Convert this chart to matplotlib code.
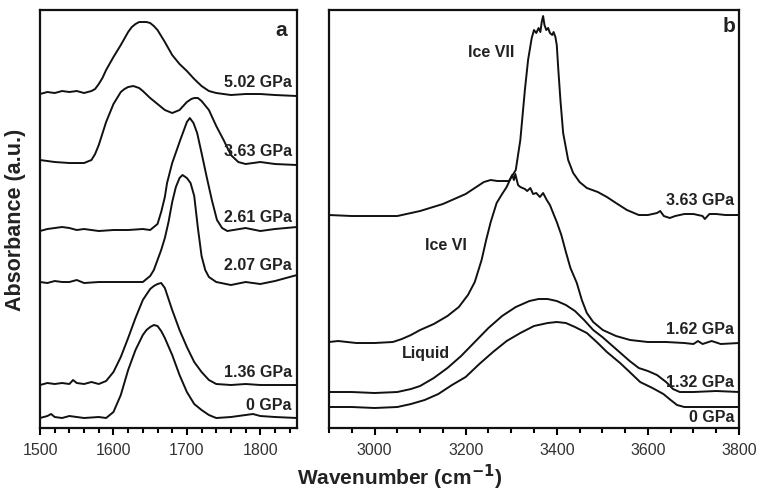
import numpy as np
import matplotlib
matplotlib.use('Agg')
import matplotlib.pyplot as plt

plt.rcParams['font.family'] = ['Liberation Sans', 'DejaVu Sans']

# ---- panel a : bending band (1500-1850 cm-1) ----
wn_502 = [1500, 1510, 1520, 1530, 1540, 1550, 1560, 1570, 1575, 1580, 1585, 1590, 1600, 1610, 1620, 1625,
          1630, 1635, 1640, 1645, 1650, 1655, 1660, 1670, 1680, 1690, 1700, 1710, 1720, 1730, 1740, 1760,
          1780, 1800, 1820, 1850]
ab_502 = [334, 336, 335, 337, 336, 337, 335, 337, 339, 344, 350, 358, 371, 383, 396, 401,
          404, 406, 406, 406, 405, 402, 398, 386, 373, 364, 357, 349, 342, 337, 335, 333,
          334, 334, 333, 332]

wn_363a = [1500, 1520, 1540, 1560, 1570, 1575, 1580, 1590, 1600, 1610, 1615, 1620, 1627, 1635, 1640, 1650,
           1660, 1670, 1680, 1690, 1700, 1706, 1710, 1715, 1720, 1730, 1740, 1750, 1760, 1770, 1780, 1800,
           1820, 1850]
ab_363a = [268, 266, 265, 265, 268, 274, 283, 306, 324, 336, 339, 341, 342, 340, 337, 330,
           324, 318, 315, 318, 326, 329, 330, 330, 327, 318, 302, 288, 273, 266, 264, 266,
           264, 263]

wn_261 = [1500, 1510, 1520, 1530, 1540, 1550, 1560, 1580, 1600, 1620, 1640, 1650, 1660, 1665, 1670, 1673,
          1680, 1691, 1700, 1704, 1709, 1714, 1720, 1727, 1734, 1741, 1748, 1755, 1780, 1800, 1820, 1850]
ab_261 = [197, 199, 200, 201, 200, 198, 199, 197, 198, 198, 199, 198, 204, 216, 231, 245,
          265, 288, 306, 310, 305, 295, 275, 251, 228, 208, 200, 197, 200, 197, 199, 201]

wn_207 = [1500, 1510, 1520, 1530, 1540, 1550, 1560, 1580, 1600, 1620, 1640, 1650, 1655, 1660, 1665, 1670,
          1675, 1680, 1685, 1690, 1694, 1700, 1705, 1710, 1715, 1720, 1725, 1730, 1740, 1760, 1780, 1800,
          1820, 1850]
ab_207 = [146, 145, 147, 146, 146, 148, 145, 146, 146, 146, 146, 152, 158, 168, 178, 190,
          206, 226, 241, 250, 253, 250, 245, 232, 200, 172, 158, 151, 146, 143, 146, 144,
          147, 153]

wn_136 = [1500, 1510, 1520, 1530, 1540, 1545, 1550, 1560, 1570, 1580, 1590, 1600, 1610, 1620, 1630, 1640,
          1650, 1655, 1660, 1665, 1670, 1680, 1690, 1700, 1710, 1720, 1730, 1740, 1760, 1780, 1800, 1820,
          1850]
ab_136 = [43, 45, 44, 45, 44, 48, 45, 44, 46, 44, 47, 56, 71, 90, 110, 128,
          139, 142, 144, 145, 140, 118, 98, 81, 66, 56, 48, 44, 43, 44, 43, 43,
          43]

wn_0a = [1500, 1510, 1515, 1520, 1530, 1540, 1560, 1580, 1590, 1600, 1610, 1620, 1630, 1640, 1645, 1650,
         1655, 1660, 1665, 1670, 1680, 1690, 1700, 1710, 1720, 1730, 1740, 1760, 1790, 1800, 1820, 1850]
ab_0a = [10, 12, 14, 11, 10, 12, 10, 11, 10, 16, 33, 58, 78, 93, 98, 101,
         103, 102, 97, 90, 73, 53, 36, 24, 18, 13, 10, 11, 14, 12, 11, 10]

# ---- panel b : stretching band (2900-3800 cm-1) ----
wn_363b = [2900, 2950, 3000, 3050, 3100, 3150, 3200, 3240, 3255, 3270, 3295, 3310, 3320, 3330, 3337, 3345,
           3350, 3355, 3360, 3364, 3367, 3370, 3373, 3377, 3381, 3385, 3390, 3393, 3397, 3400, 3403, 3408,
           3414, 3425, 3436, 3450, 3466, 3490, 3510, 3530, 3554, 3580, 3600, 3620, 3627, 3635, 3648, 3660,
           3680, 3700, 3720, 3725, 3735, 3750, 3770, 3800]
ab_363b = [213, 212, 212, 212, 217, 224, 234, 246, 248, 247, 247, 258, 288, 338, 368, 390,
           398, 395, 400, 396, 406, 412, 403, 398, 400, 395, 393, 396, 391, 383, 361, 328,
           295, 268, 255, 246, 240, 236, 231, 225, 218, 213, 213, 215, 217, 212, 210, 212,
           214, 214, 212, 209, 214, 214, 213, 213]

wn_162 = [2900, 2920, 2940, 2960, 3000, 3040, 3060, 3080, 3100, 3130, 3160, 3185, 3205, 3220, 3235, 3245,
          3255, 3268, 3280, 3290, 3297, 3302, 3306, 3309, 3315, 3320, 3330, 3335, 3342, 3348, 3355, 3363,
          3370, 3378, 3385, 3392, 3400, 3410, 3420, 3430, 3444, 3455, 3466, 3480, 3501, 3530, 3561, 3600,
          3640, 3680, 3700, 3710, 3720, 3740, 3760, 3800]
ab_162 = [86, 87, 86, 85, 85, 86, 89, 93, 98, 104, 112, 121, 133, 146, 168, 188,
          206, 225, 234, 241, 248, 253, 248, 254, 243, 241, 239, 237, 240, 234, 235, 231,
          235, 228, 223, 215, 206, 193, 176, 160, 145, 128, 115, 106, 98, 92, 88, 86,
          86, 85, 84, 87, 84, 87, 84, 85]

wn_132 = [2900, 2950, 3000, 3050, 3080, 3100, 3130, 3160, 3190, 3220, 3250, 3280, 3310, 3340, 3360, 3380,
          3400, 3420, 3440, 3460, 3480, 3500, 3520, 3540, 3560, 3580, 3600, 3620, 3640, 3655, 3670, 3700,
          3750, 3800]
ab_132 = [36, 36, 35, 36, 39, 42, 50, 60, 72, 86, 100, 112, 121, 127, 129, 129,
          127, 123, 117, 108, 98, 91, 83, 75, 67, 60, 57, 53, 46, 39, 36, 36,
          37, 36]

wn_0b = [2900, 2950, 3000, 3050, 3080, 3110, 3140, 3170, 3200, 3230, 3260, 3290, 3320, 3350, 3380, 3400,
         3420, 3440, 3466, 3490, 3510, 3539, 3560, 3583, 3610, 3634, 3650, 3664, 3680, 3700, 3750, 3800]
ab_0b = [21, 21, 20, 21, 24, 28, 34, 43, 51, 64, 76, 87, 95, 102, 105, 106,
         105, 101, 95, 85, 76, 65, 56, 46, 40, 34, 28, 23, 21, 21, 21, 21]

labels_a = ['5.02 GPa', '3.63 GPa', '2.61 GPa', '2.07 GPa', '1.36 GPa', '0 GPa']
label_y_a = [346, 277, 211, 163, 56, 23]
labels_b = ['3.63 GPa', '1.62 GPa', '1.32 GPa', '0 GPa']
label_y_b = [228, 99, 46, 11]

fig = plt.figure(figsize=(7.61, 4.91), dpi=100)
ax1 = fig.add_axes([0.0526, 0.1283, 0.3377, 0.8513])
ax2 = fig.add_axes([0.4323, 0.1283, 0.5388, 0.8513])

for x, y in [(wn_502, ab_502), (wn_363a, ab_363a), (wn_261, ab_261),
             (wn_207, ab_207), (wn_136, ab_136), (wn_0a, ab_0a)]:
    ax1.plot(x, y, color='#111111', lw=1.4)
for x, y in [(wn_363b, ab_363b), (wn_162, ab_162), (wn_132, ab_132), (wn_0b, ab_0b)]:
    ax2.plot(x, y, color='#111111', lw=1.4)

ax1.set_xlim(1500, 1850)
ax2.set_xlim(2900, 3800)
for ax in (ax1, ax2):
    ax.set_ylim(0, 418)
    ax.set_yticks([])
    for s in ax.spines.values():
        s.set_linewidth(1.6)
        s.set_color('#111111')
    ax.tick_params(axis='x', which='major', direction='out', length=5, width=1.5,
                   labelsize=11.5, labelcolor='#333333', pad=6)
    ax.tick_params(axis='x', which='minor', direction='out', length=3.5, width=1.5)

ax1.set_xticks([1500, 1600, 1700, 1800])
ax1.set_xticks(np.arange(1500, 1851, 20), minor=True)
ax2.set_xticks([3000, 3200, 3400, 3600, 3800])
ax2.set_xticks(np.arange(2900, 3801, 50), minor=True)

for t, y in zip(labels_a, label_y_a):
    ax1.text(1843, y, t, ha='right', va='center', fontsize=11.5, fontweight='bold', color='#222222')
for t, y in zip(labels_b, label_y_b):
    ax2.text(3790, y, t, ha='right', va='center', fontsize=11.5, fontweight='bold', color='#222222')

ax2.text(3257, 376, 'Ice VII', ha='center', va='center', fontsize=11.5, fontweight='bold', color='#222222')
ax2.text(3157, 183, 'Ice VI', ha='center', va='center', fontsize=11.5, fontweight='bold', color='#222222')
ax2.text(3113, 75, 'Liquid', ha='center', va='center', fontsize=11.5, fontweight='bold', color='#222222')

ax1.text(0.94, 0.95, 'a', transform=ax1.transAxes, ha='center', va='center',
         fontsize=15, fontweight='bold', color='#222222')
ax2.text(0.975, 0.96, 'b', transform=ax2.transAxes, ha='center', va='center',
         fontsize=15, fontweight='bold', color='#222222')

fig.text(400 / 761, 1 - 477 / 491, 'Wavenumber (cm$^{\\mathbf{-1}}$)', ha='center', va='center',
         fontsize=15, fontweight='bold', color='#222222')
fig.text(16 / 761, 1 - 220 / 491, 'Absorbance (a.u.)', rotation=90, ha='center', va='center',
         fontsize=15.5, fontweight='bold', color='#222222')

fig.savefig('out.png', dpi=100)
